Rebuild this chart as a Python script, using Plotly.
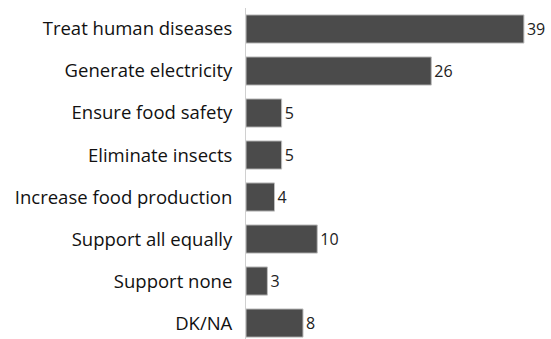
import plotly.graph_objects as go

categories = [
    "Treat human diseases",
    "Generate electricity",
    "Ensure food safety",
    "Eliminate insects",
    "Increase food production",
    "Support all equally",
    "Support none",
    "DK/NA",
]
values = [39, 26, 5, 5, 4, 10, 3, 8]

fig = go.Figure()
fig.add_trace(go.Bar(
    x=values,
    y=categories,
    orientation='h',
    marker=dict(color='#4b4b4b', line=dict(color='#bdbdbd', width=1)),
    text=[str(v) for v in values],
    textposition='outside',
    textfont=dict(size=16, color='#222'),
    cliponaxis=False,
))
fig.update_layout(
    width=551,
    height=339,
    margin=dict(l=246, r=0, t=8, b=0),
    paper_bgcolor='white',
    plot_bgcolor='white',
    font=dict(family='Open Sans', size=18.5, color='#111'),
    bargap=0.33,
    showlegend=False,
    xaxis=dict(range=[0, 42.8], visible=False),
    yaxis=dict(
        range=[7.38, -0.5],
        showline=True,
        linecolor='#d0d0d0',
        linewidth=1,
        ticks='',
        ticklabelstandoff=9,
        showgrid=False,
        tickfont=dict(size=18.5),
    ),
)
# drop the default 8px page margin so the figure fills the window
fig.write_html(
    "out.html",
    config={'displayModeBar': False},
    post_script="document.body.style.margin='0';",
)
